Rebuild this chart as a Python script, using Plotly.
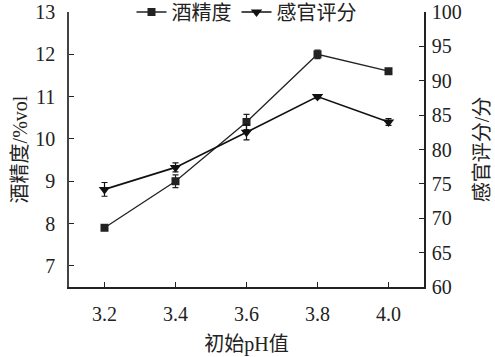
import plotly.graph_objects as go

ph = [3.2, 3.4, 3.6, 3.8, 4.0]
alcohol = [7.9, 9.0, 10.4, 12.0, 11.6]
alcohol_err = [0.05, 0.15, 0.18, 0.1, 0.05]
sensory = [74.2, 77.4, 82.5, 87.7, 84.0]
sensory_err = [1.0, 0.65, 1.1, 0.3, 0.5]
xticks = [3.2, 3.4, 3.6, 3.8, 4.0]
xticklabels = ["3.2", "3.4", "3.6", "3.8", "4.0"]

FONT = "Liberation Serif, Times New Roman, Noto Sans CJK SC, serif"

fig = go.Figure()
fig.add_trace(go.Scatter(
    x=ph, y=alcohol, name="酒精度", mode="lines+markers",
    line=dict(color="#222222", width=1.3),
    marker=dict(symbol="square", size=8, color="#222222"),
    error_y=dict(type="data", array=alcohol_err, color="#222222", thickness=1.2, width=3),
    yaxis="y",
))
fig.add_trace(go.Scatter(
    x=ph, y=sensory, name="感官评分", mode="lines+markers",
    line=dict(color="#111111", width=1.6),
    marker=dict(symbol="triangle-down", size=10, color="#111111"),
    error_y=dict(type="data", array=sensory_err, color="#111111", thickness=1.2, width=3),
    yaxis="y2",
))

fig.update_layout(
    width=495, height=357,
    margin=dict(l=69, r=71, t=12, b=70, autoexpand=False),
    paper_bgcolor="white", plot_bgcolor="white",
    font=dict(family=FONT, size=20, color="#222222"),
    showlegend=True,
    legend=dict(orientation="h", x=0.5, xanchor="center", y=1.0, yanchor="middle",
                bgcolor="rgba(0,0,0,0)", font=dict(size=20), itemwidth=30,
                tracegroupgap=0),
    xaxis=dict(
        range=[3.1, 4.1], tickvals=xticks, ticktext=xticklabels,
        showline=True, linecolor="#222222", linewidth=1.5,
        ticks="inside", ticklen=5, tickcolor="#222222",
        showgrid=False, zeroline=False, mirror=False,
        ticklabelstandoff=8, automargin=False,
        title=dict(text="初始pH值", font=dict(size=20), standoff=13),
    ),
    yaxis=dict(
        range=[6.5, 13], dtick=1, tick0=7,
        showline=True, linecolor="#444444", linewidth=1.5,
        ticks="inside", ticklen=5, tickcolor="#222222",
        showgrid=False, zeroline=False,
        ticklabelstandoff=8, automargin=False,
        title=dict(text="酒精度/%vol", font=dict(size=20), standoff=2),
    ),
    yaxis2=dict(
        range=[60, 100], dtick=5, tick0=60,
        overlaying="y", side="right",
        showline=True, linecolor="#222222", linewidth=1.5,
        ticks="inside", ticklen=5, tickcolor="#222222",
        showgrid=False, zeroline=False,
        ticklabelstandoff=2, automargin=False,
        title=dict(text="感官评分/分", font=dict(size=20), standoff=14),
    ),
)

fig.write_html("out.html", config={"displayModeBar": False},
               post_script="document.body.style.margin='0';document.body.style.overflow='hidden';")
